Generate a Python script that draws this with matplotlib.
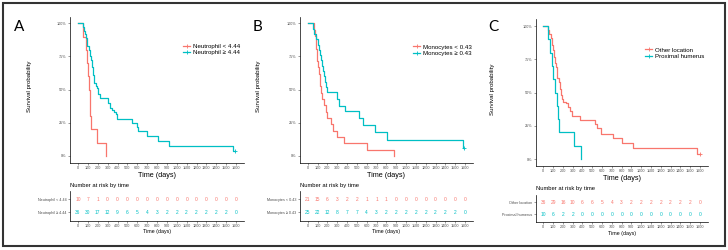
import matplotlib
matplotlib.use("Agg")
import matplotlib.pyplot as plt
from matplotlib.lines import Line2D
from matplotlib.patches import Rectangle

RED = "#F8766D"
TEAL = "#00BFC4"
GREY = "#4D4D4D"

# ---- data ----
times_ticks = [0, 100, 200, 300, 400, 500, 600, 700, 800, 900, 1000, 1100, 1200, 1300, 1400, 1500, 1600]

# A: neutrophil
a_low_t = [0, 54, 81, 95, 105, 112, 118, 125, 135, 196, 284]
a_low_s = [1.0, 0.9, 0.8, 0.7, 0.6, 0.5, 0.4, 0.3, 0.2, 0.1, 0.0]
a_high_t = [0, 54, 60, 68, 81, 88, 95, 108, 122, 132, 139, 149, 158, 166, 180, 189, 203, 223,
            307, 324, 345, 365, 385, 399, 551, 595, 611, 696, 814, 926, 1574, 1592]
a_high_s = [1.0, 0.97, 0.94, 0.92, 0.89, 0.86, 0.83, 0.80, 0.75, 0.72, 0.67, 0.61, 0.58, 0.55, 0.53, 0.51, 0.47, 0.44,
            0.40, 0.36, 0.35, 0.33, 0.32, 0.28, 0.25, 0.22, 0.19, 0.15, 0.11, 0.075, 0.038, 0.038]
a_risk_low = [10, 7, 1, 0, 0, 0, 0, 0, 0, 0, 0, 0, 0, 0, 0, 0, 0]
a_risk_high = [36, 30, 17, 12, 9, 6, 5, 4, 3, 2, 2, 2, 2, 2, 2, 2, 0]

# B: monocytes
b_low_t = [0, 64, 72, 80, 86, 92, 97, 110, 119, 124, 129, 136, 142, 166, 183, 198, 234, 261, 295, 373, 600, 880]
b_low_s = [1.0, 0.952, 0.905, 0.857, 0.810, 0.762, 0.714, 0.667, 0.619, 0.571, 0.524, 0.476, 0.429, 0.381,
           0.333, 0.286, 0.238, 0.190, 0.143, 0.095, 0.048, 0.0]
b_high_t = [0, 50, 65, 85, 105, 115, 125, 138, 150, 158, 165, 180, 190, 195, 302, 315, 383, 525, 566, 685, 803, 1576, 1592]
b_high_s = [1.0, 0.96, 0.92, 0.88, 0.84, 0.80, 0.76, 0.72, 0.68, 0.64, 0.60, 0.56, 0.52, 0.48, 0.43, 0.38, 0.34,
            0.29, 0.23, 0.18, 0.12, 0.06, 0.06]
b_risk_low = [21, 15, 6, 3, 2, 2, 1, 1, 1, 0, 0, 0, 0, 0, 0, 0, 0]
b_risk_high = [25, 22, 12, 8, 7, 7, 4, 3, 2, 2, 2, 2, 2, 2, 2, 2, 0]

# C: location
c_other_t = [0, 51, 60, 75, 85, 95, 109, 120, 129, 143, 156, 170, 180, 187, 204, 231, 255, 272, 293, 374,
             527, 551, 585, 714, 799, 912, 1565, 1598]
c_other_s = [1.0, 0.97, 0.94, 0.91, 0.86, 0.82, 0.77, 0.72, 0.69, 0.61, 0.58, 0.53, 0.48, 0.45, 0.43, 0.42,
             0.39, 0.36, 0.32, 0.29, 0.26, 0.23, 0.19, 0.16, 0.12, 0.08, 0.04, 0.04]
c_hum_t = [0, 51, 72, 90, 98, 122, 140, 145, 156, 313, 381]
c_hum_s = [1.0, 0.9, 0.8, 0.7, 0.6, 0.5, 0.4, 0.3, 0.2, 0.1, 0.0]
c_risk_other = [36, 29, 16, 10, 6, 6, 5, 4, 3, 2, 2, 2, 2, 2, 2, 2, 0]
c_risk_hum = [10, 6, 2, 2, 0, 0, 0, 0, 0, 0, 0, 0, 0, 0, 0, 0, 0]

panels = [
    dict(letter="A", labels=["Neutrophil < 4.44", "Neutrophil \u2265 4.44"],
         curves=[(a_low_t, a_low_s), (a_high_t, a_high_s)], risk=[a_risk_low, a_risk_high],
         main=(70.1, 16.7, 243.9, 162.6), table=(70.1, 191.2, 243.9, 220.5),
         letter_xy=(19, 27), ylab_x=32, leg=(180, 49.3)),
    dict(letter="B", labels=["Monocytes < 0.43", "Monocytes \u2265 0.43"],
         curves=[(b_low_t, b_low_s), (b_high_t, b_high_s)], risk=[b_risk_low, b_risk_high],
         main=(299.8, 16.7, 472.9, 162.6), table=(299.8, 191.2, 472.9, 220.5),
         letter_xy=(258, 27), ylab_x=261, leg=(410, 50)),
    dict(letter="C", labels=["Other location", "Proximal humerus"],
         curves=[(c_other_t, c_other_s), (c_hum_t, c_hum_s)], risk=[c_risk_other, c_risk_hum],
         main=(535.5, 19.4, 707.8, 165.7), table=(535.5, 194.8, 707.8, 221.8),
         letter_xy=(493, 27), ylab_x=495, leg=(642, 53)),
]

W, H = 728, 250
fig = plt.figure(figsize=(W / 100, H / 100), dpi=100)
plt.rcParams['font.family'] = ['Liberation Sans', 'DejaVu Sans']


def px_axes(box):
    l, t, r, b = box
    return fig.add_axes([l / W, 1 - b / H, (r - l) / W, (b - t) / H])


def style(ax):
    for s in ["top", "right"]:
        ax.spines[s].set_visible(False)
    for s in ["left", "bottom"]:
        ax.spines[s].set_linewidth(0.5)
    ax.tick_params(length=1.5, width=0.4, pad=1, colors=GREY, labelsize=2.7)


for p in panels:
    ax = px_axes(p["main"])
    style(ax)
    colors = [RED, TEAL]
    for (t, s), c in zip(p["curves"], colors):
        ax.step(t, s, where="post", color=c, lw=0.9)
    # censor marks at the end of long tails
    for (t, s), c in zip(p["curves"], colors):
        if s[-1] > 0:
            ax.plot(t[-1], s[-1], marker="+", color=c, ms=2.5, mew=0.6)
    ax.set_xlim(-80, 1680)
    ax.set_ylim(-0.05, 1.05)
    ax.set_xticks(times_ticks)
    ax.set_yticks([0, 0.25, 0.5, 0.75, 1.0])
    ax.set_yticklabels(["0%", "25%", "50%", "75%", "100%"])
    ax.set_xlabel("Time (days)", fontsize=5.2, labelpad=1.5)
    l, t, r, b = p["main"]
    ax.set_ylabel("Survival probability", fontsize=4.4)
    ax.yaxis.set_label_coords((p["ylab_x"] - l) / (r - l), 0.52)

    handles = [Line2D([], [], color=c, lw=0.9, marker="+", ms=2.5, mew=0.6) for c in colors]
    lx, ly = p["leg"]
    ax.legend(handles, p["labels"], loc="center left", bbox_to_anchor=(lx / W, 1 - ly / H),
              bbox_transform=fig.transFigure, frameon=False, fontsize=4.4, handlelength=1.2,
              handletextpad=0.5, borderpad=0, labelspacing=0.15)

    fig.text(p["letter_xy"][0] / W, 1 - p["letter_xy"][1] / H, p["letter"], fontsize=11,
             ha="center", va="center", family="Lato")

    # risk table
    tx = px_axes(p["table"])
    style(tx)
    for row, (counts, c) in enumerate(zip(p["risk"], colors)):
        y = 2 - row
        for tt, n in zip(times_ticks, counts):
            tx.text(tt, y, str(n), ha="center", va="center", color=c, fontsize=3.5)
    tx.set_xlim(-80, 1680)
    tx.set_ylim(0.35, 2.6)
    tx.set_xticks(times_ticks)
    tx.set_yticks([2, 1])
    tx.set_yticklabels(p["labels"])
    tx.set_xlabel("Time (days)", fontsize=3.8, labelpad=1)
    l, t, r, b = p["table"]
    tx.text(0, (b - 185 - (t - 191.2)) / (b - t), "Number at risk by time", transform=tx.transAxes,
            fontsize=4.2, ha="left", va="center")

fig.add_artist(Rectangle((3 / W, 1 - 246 / H), 722 / W, 243 / H, transform=fig.transFigure,
                         fill=False, edgecolor="#333333", lw=1.5))

fig.savefig("out.png", dpi=100)
